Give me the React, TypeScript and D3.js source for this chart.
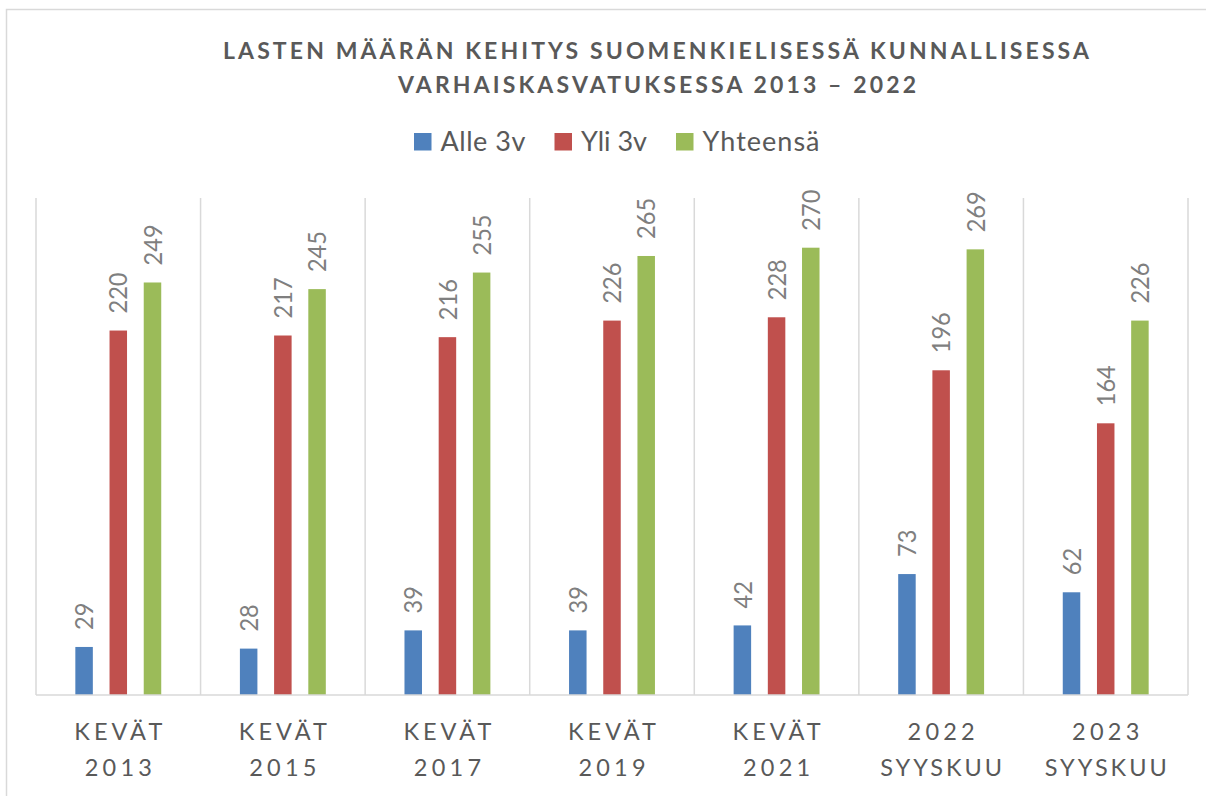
import React from "react";
import * as d3 from "d3";

const categories = ["KEVÄT 2013", "KEVÄT 2015", "KEVÄT 2017", "KEVÄT 2019", "KEVÄT 2021", "2022 SYYSKUU", "2023 SYYSKUU"];
const categoryLines = [
  ["KEVÄT", "2013"],
  ["KEVÄT", "2015"],
  ["KEVÄT", "2017"],
  ["KEVÄT", "2019"],
  ["KEVÄT", "2021"],
  ["2022", "SYYSKUU"],
  ["2023", "SYYSKUU"],
];
const seriesNames = ["Alle 3v", "Yli 3v", "Yhteensä"];
const seriesColors = ["#4f81bd", "#c0504d", "#9bbb59"];
const alle3v = [29, 28, 39, 39, 42, 73, 62];
const yli3v = [220, 217, 216, 226, 228, 196, 164];
const yhteensa = [249, 245, 255, 265, 270, 269, 226];
const seriesValues = [alle3v, yli3v, yhteensa];
const titleLines = ["LASTEN MÄÄRÄN KEHITYS SUOMENKIELISESSÄ KUNNALLISESSA", "VARHAISKASVATUKSESSA 2013 – 2022"];
const yMax = 300;

const W = 1206;
const H = 796;
const plot = { left: 36, right: 1188, top: 198, bottom: 695 };
const FONT = "Lato, 'Open Sans', 'Liberation Sans', sans-serif";

export default function App() {
  const x0 = d3.scaleBand<string>().domain(categories).range([plot.left, plot.right]).paddingInner(0).paddingOuter(0);
  const bw = x0.bandwidth();
  const groupHalf = 51.3;
  const x1 = d3.scaleBand<string>().domain(seriesNames).range([bw / 2 - groupHalf, bw / 2 + groupHalf]);
  const barW = 17.5;
  const y = d3.scaleLinear().domain([0, yMax]).range([plot.bottom, plot.top]);

  const boundaries = categories.map((c) => x0(c) as number).concat([plot.right]);

  const legendTextW = [85, 66, 117];
  const sq = 17.5;
  const legendGap = 9;
  const itemGap = 29;
  let lx = 414;
  const legendItems = seriesNames.map((n, i) => {
    const item = { name: n, color: seriesColors[i], sx: lx, tx: lx + sq + legendGap, tw: legendTextW[i] };
    lx = item.tx + item.tw + itemGap;
    return item;
  });

  const labelLen = (s: string) => {
    if (/^\d+$/.test(s)) return s.length * 16.8;
    if (s === "KEVÄT") return 88;
    if (s === "SYYSKUU") return 122;
    return s.length * 17.6;
  };

  return (
    <div style={{ position: "absolute", left: 0, top: 0 }}>
      <svg width={W} height={H} style={{ display: "block", background: "#fff" }} fontFamily={FONT}>
        <rect x={6.5} y={9.5} width={1220} height={820} fill="#fff" stroke="#d9d9d9" strokeWidth={1.5} />
        <text x={656} y={59} textAnchor="middle" fontSize={23} fontWeight={700} fill="#595959" textLength={866} lengthAdjust="spacing">
          {titleLines[0]}
        </text>
        <text x={657} y={93} textAnchor="middle" fontSize={23} fontWeight={700} fill="#595959" textLength={518} lengthAdjust="spacing">
          {titleLines[1]}
        </text>
        {legendItems.map((it) => (
          <g key={it.name}>
            <rect x={it.sx} y={133} width={sq} height={sq} fill={it.color} />
            <text x={it.tx} y={151} fontSize={27} fill="#595959" textLength={it.tw} lengthAdjust="spacing">
              {it.name}
            </text>
          </g>
        ))}
        {boundaries.map((bx, i) => (
          <line key={i} x1={bx} x2={bx} y1={plot.top} y2={plot.bottom} stroke="#d9d9d9" strokeWidth={1.5} />
        ))}
        {categories.map((c, ci) => (
          <g key={c}>
            {seriesNames.map((s, si) => {
              const v = seriesValues[si][ci];
              const bx = (x0(c) as number) + (x1(s) as number) + (x1.bandwidth() - barW) / 2;
              const cx = bx + barW / 2;
              const ty = y(v) - 17;
              return (
                <g key={s}>
                  <rect x={bx} y={y(v)} width={barW} height={y(0) - y(v)} fill={seriesColors[si]} />
                  <text transform={`translate(${cx},${ty}) rotate(-90)`} dy="0.36em" fontSize={25.5} fill="#7f7f7f" textLength={String(v).length * 13.7} lengthAdjust="spacingAndGlyphs">
                    {String(v)}
                  </text>
                </g>
              );
            })}
          </g>
        ))}
        <line x1={plot.left} x2={plot.right} y1={plot.bottom} y2={plot.bottom} stroke="#d9d9d9" strokeWidth={1.5} />
        {categories.map((c, ci) => {
          const cx = (x0(c) as number) + bw / 2;
          return (
            <g key={c}>
              {categoryLines[ci].map((ln, li) => (
                <text key={li} x={cx} y={740 + li * 36} textAnchor="middle" fontSize={23.5} fill="#595959" textLength={labelLen(ln)} lengthAdjust="spacing">
                  {ln}
                </text>
              ))}
            </g>
          );
        })}
      </svg>
    </div>
  );
}
